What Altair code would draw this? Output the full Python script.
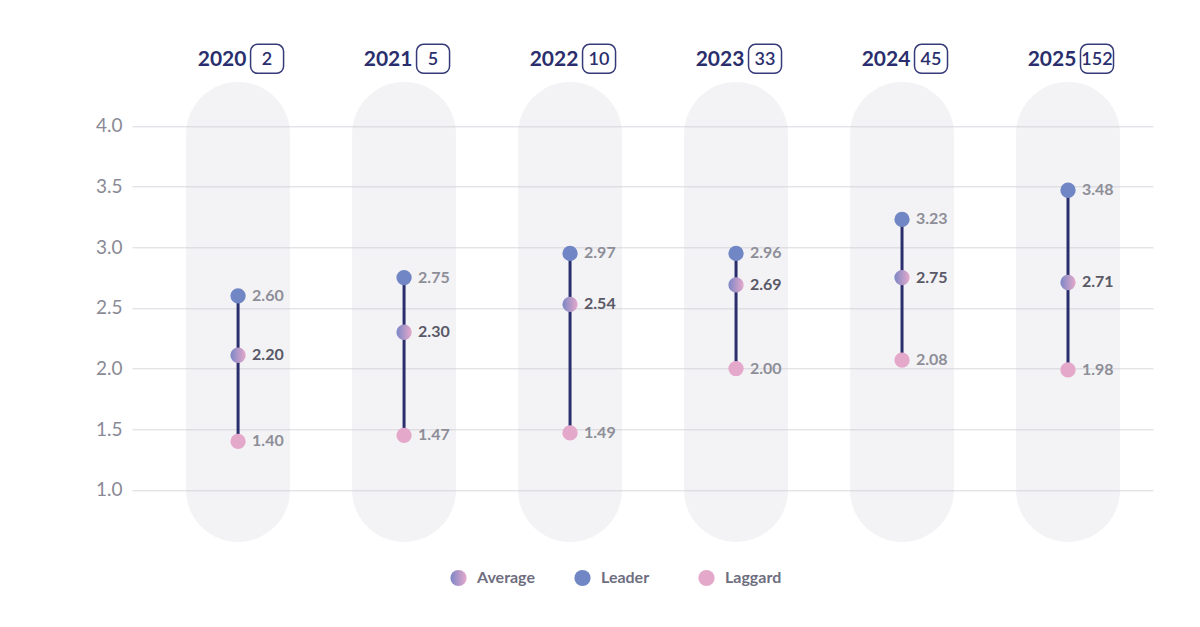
import altair as alt
import pandas as pd

years = ["2020", "2021", "2022", "2023", "2024", "2025"]
counts = ["2", "5", "10", "33", "45", "152"]

# dot positions
leader = [2.60, 2.75, 2.95, 2.95, 3.23, 3.47]
average = [2.11, 2.30, 2.53, 2.69, 2.75, 2.71]
laggard = [1.40, 1.45, 1.47, 2.00, 2.07, 1.99]

# printed value labels
leader_labels = ["2.60", "2.75", "2.97", "2.96", "3.23", "3.48"]
average_labels = ["2.20", "2.30", "2.54", "2.69", "2.75", "2.71"]
laggard_labels = ["1.40", "1.47", "1.49", "2.00", "2.08", "1.98"]

series_names = ["Average", "Leader", "Laggard"]

NAVY = "#2a2e6c"
FONT = "Lato"

idx = list(range(len(years)))
wide = pd.DataFrame({"i": idx, "year": years, "count": counts,
                     "leader": leader, "laggard": laggard})

rows = []
for s, vals, labs in [("Average", average, average_labels),
                      ("Leader", leader, leader_labels),
                      ("Laggard", laggard, laggard_labels)]:
    for i in idx:
        rows.append({"i": i, "series": s, "value": vals[i], "label": labs[i]})
long = pd.DataFrame(rows)

xscale = alt.Scale(domain=[-0.639, 5.512], nice=False, zero=False)
yscale = alt.Scale(domain=[0.5, 4.5], nice=False, zero=False)
X = alt.X("i:Q", scale=xscale, axis=None)

base_wide = alt.Chart(wide)

pills = base_wide.mark_rect(width=104, cornerRadius=52, fill="#c9c9d3", opacity=0.22).encode(
    x=X,
    y=alt.Y(datum=4.362, type="quantitative", scale=yscale,
            axis=alt.Axis(values=[1.0, 1.5, 2.0, 2.5, 3.0, 3.5, 4.0], format=".1f",
                          grid=True, domain=False, ticks=False, labelPadding=10,
                          labelFont=FONT, labelFontSize=19, labelColor="#8a8a96",
                          labelFontWeight="normal", gridColor="#d9d9de", gridWidth=1,
                          title=None)),
    y2=alt.Y2(datum=0.571),
)

rule = base_wide.mark_rule(color=NAVY, strokeWidth=3).encode(
    x=X, y=alt.Y("leader:Q", scale=yscale), y2="laggard:Q"
)

grad = {"expr": "{gradient: 'linear', x1: 0, y1: 0, x2: 1, y2: 0, stops: [{offset: 0, color: '#7b87c6'}, {offset: 1, color: '#e6a9cb'}]}"}

dots = alt.Chart(long).mark_circle(size=235, opacity=1).encode(
    x=X,
    y=alt.Y("value:Q", scale=yscale),
    color=alt.Color("series:N",
                    scale=alt.Scale(domain=series_names, range=[grad, "#7186c4", "#e4a8cb"]),
                    legend=alt.Legend(title=None, orient="none", direction="horizontal",
                                      legendX=318, legendY=504, padding=0,
                                      symbolType="circle", symbolSize=263,
                                      symbolStrokeWidth=0, symbolOpacity=1,
                                      labelFont=FONT, labelFontSize=16,
                                      labelFontWeight="bold", labelColor="#6e6e80",
                                      labelOffset=10, columnPadding=38,
                                      gridAlign="all")),
)

labels = alt.Chart(long).mark_text(align="left", baseline="middle", dx=14,
                                   font=FONT, fontSize=16, fontWeight="bold").encode(
    x=X,
    y=alt.Y("value:Q", scale=yscale),
    text="label:N",
    color=alt.condition(alt.datum.series == "Average",
                        alt.value("#585866"), alt.value("#8e8e98")),
)

year_text = base_wide.mark_text(align="center", baseline="middle", dx=-16, dy=1,
                                font=FONT, fontSize=21, fontWeight="bold",
                                color=NAVY).encode(
    x=X, y=alt.value(-6), text="year:N"
)

box = base_wide.mark_rect(width=33, cornerRadius=7, fill="white", stroke="#353a78",
                          strokeWidth=1.5, xOffset=29).encode(
    x=X, y=alt.value(-21), y2=alt.value(8)
)

count_text = base_wide.mark_text(align="center", baseline="middle", dx=29, dy=1,
                                 font=FONT, fontSize=18, fontWeight=600,
                                 color=NAVY).encode(
    x=X, y=alt.value(-6), text="count:N"
)

chart = alt.layer(pills, rule, dots, labels, box, year_text, count_text).properties(
    width=1021, height=485.3,
    autosize=alt.AutoSizeParams(type="none"),
    padding={"left": 124, "top": 57.3, "right": 20, "bottom": 60},
    background="white",
).configure_view(stroke=None)

chart.save("out.html", embed_options={"renderer": "svg", "actions": False})
